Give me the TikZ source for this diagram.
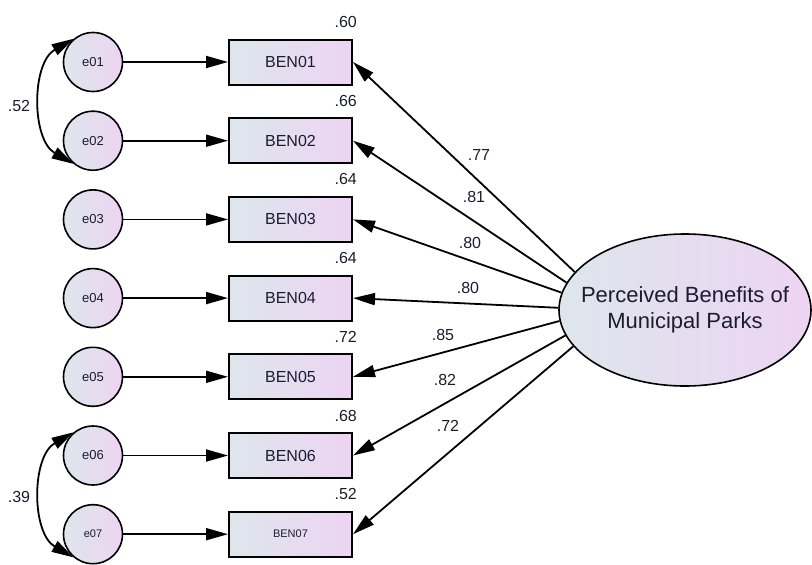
\documentclass[tikz,border=0pt]{standalone}
\usepackage{fontspec}
\setmainfont{Liberation Sans}
\usetikzlibrary{shapes.geometric,arrows.meta}
\definecolor{semleft}{RGB}{222,230,236}
\definecolor{semright}{RGB}{237,212,243}
\definecolor{semtext}{RGB}{28,28,48}
\tikzstyle{errnode} = [circle, draw, line width=1.6pt, left color=semleft, right color=semright, minimum size=59pt, inner sep=0pt, text=semtext, font=\fontsize{13}{15}\selectfont]
\tikzstyle{obsnode} = [rectangle, draw, line width=2pt, left color=semleft, right color=semright, minimum width=123pt, minimum height=45pt, text=semtext, font=\fontsize{16}{19}\selectfont]
\tikzstyle{latnode} = [ellipse, draw, line width=1.6pt, left color=semleft, right color=semright, inner xsep=-16pt, inner ysep=0pt, minimum width=252pt, minimum height=152pt, align=center, text=semtext, font=\fontsize{22}{26}\selectfont]
\tikzstyle{semarrow} = [-{Triangle[length=22pt,width=12pt]}, line width=1.8pt]
\tikzstyle{covarrow} = [{Triangle[length=22pt,width=12pt]}-{Triangle[length=22pt,width=12pt]}, line width=1.8pt]
\tikzstyle{coef} = [text=semtext, font=\fontsize{16}{19}\selectfont, inner sep=0pt]

\begin{document}
\begin{tikzpicture}
				\useasboundingbox (0,0) rectangle (812pt,-565pt);
				\node[errnode] (e01) at (93pt,-62pt) {e01};
				\node[errnode, below of=e01, node distance=78.7pt] (e02) {e02};
				\node[errnode, below of=e02, node distance=78.7pt] (e03) {e03};
				\node[errnode, below of=e03, node distance=78.7pt] (e04) {e04};
				\node[errnode, below of=e04, node distance=78.7pt] (e05) {e05};
				\node[errnode, below of=e05, node distance=78.7pt] (e06) {e06};
				\node[errnode, below of=e06, node distance=78.7pt, font=\fontsize{11}{13}\selectfont] (e07) {e07};
				\node[obsnode, right of=e01, node distance=197.5pt] (BEN01) {BEN01};
				\node[obsnode, right of=e02, node distance=197.5pt] (BEN02) {BEN02};
				\node[obsnode, right of=e03, node distance=197.5pt] (BEN03) {BEN03};
				\node[obsnode, right of=e04, node distance=197.5pt] (BEN04) {BEN04};
				\node[obsnode, right of=e05, node distance=197.5pt] (BEN05) {BEN05};
				\node[obsnode, right of=e06, node distance=197.5pt] (BEN06) {BEN06};
				\node[obsnode, right of=e07, node distance=197.5pt, font=\fontsize{11}{13}\selectfont] (BEN07) {BEN07};
				\node[latnode] (PBMP) at (685pt,-310pt) {Perceived Benefits of\\Municipal Parks};
				\draw[semarrow] (e01) -- (BEN01);
				\draw[semarrow] (e02) -- (BEN02);
				\draw[semarrow] (e03) -- (BEN03);
				\draw[semarrow] (e04) -- (BEN04);
				\draw[semarrow] (e05) -- (BEN05);
				\draw[semarrow] (e06) -- (BEN06);
				\draw[semarrow] (e07) -- (BEN07);
				\draw[semarrow] (PBMP.161) -- (BEN01.east);
				\draw[semarrow] (PBMP.167) -- (BEN02.east);
				\draw[semarrow] (PBMP.172) -- (BEN03.east);
				\draw[semarrow] (PBMP.179) -- (BEN04.east);
				\draw[semarrow] (PBMP.185) -- (BEN05.east);
				\draw[semarrow] (PBMP.192) -- (BEN06.east);
				\draw[semarrow] (PBMP.198) -- (BEN07.east);
				\draw[covarrow] (e01.130) to[bend right=60] (e02.230);
				\draw[covarrow] (e06.130) to[bend right=60] (e07.230);
				\node[coef, anchor=base east] (r01) at ([xshift=4pt,yshift=11pt]BEN01.north east) {.60};
				\node[coef, anchor=base east] (r02) at ([xshift=4pt,yshift=11pt]BEN02.north east) {.66};
				\node[coef, anchor=base east] (r03) at ([xshift=4pt,yshift=11pt]BEN03.north east) {.64};
				\node[coef, anchor=base east] (r04) at ([xshift=4pt,yshift=11pt]BEN04.north east) {.64};
				\node[coef, anchor=base east] (r05) at ([xshift=4pt,yshift=11pt]BEN05.north east) {.72};
				\node[coef, anchor=base east] (r06) at ([xshift=4pt,yshift=11pt]BEN06.north east) {.68};
				\node[coef, anchor=base east] (r07) at ([xshift=4pt,yshift=11pt]BEN07.north east) {.52};
				\node[coef] (l01) at (479pt,-155pt) {.77};
				\node[coef] (l02) at (474pt,-197pt) {.81};
				\node[coef] (l03) at (470pt,-243pt) {.80};
				\node[coef] (l04) at (468pt,-288pt) {.80};
				\node[coef] (l05) at (443pt,-335pt) {.85};
				\node[coef] (l06) at (445pt,-380pt) {.82};
				\node[coef] (l07) at (448pt,-426pt) {.72};
				\node[coef] (c12) at (19pt,-106pt) {.52};
				\node[coef] (c67) at (19pt,-497pt) {.39};
			\end{tikzpicture}
\end{document}
